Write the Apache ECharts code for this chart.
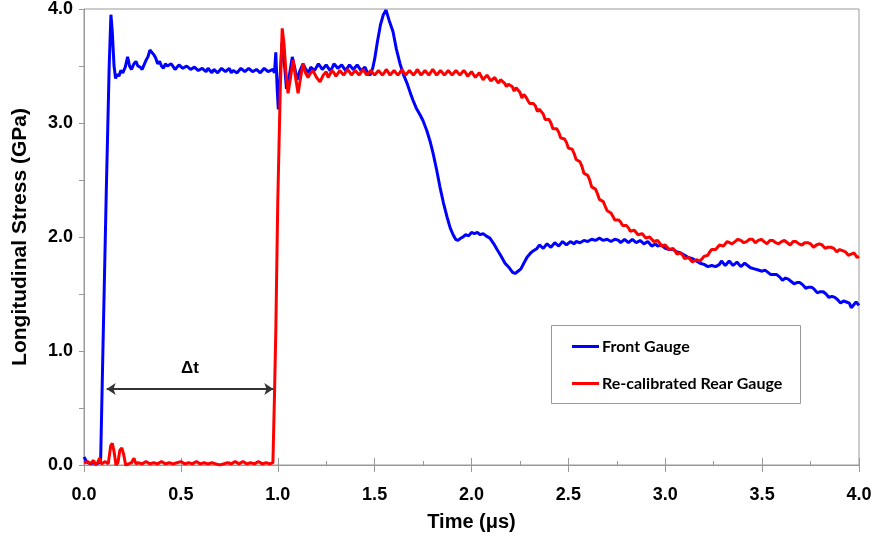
<!DOCTYPE html>
<html>
<head>
<meta charset="utf-8">
<script src="https://cdn.jsdelivr.net/npm/echarts@6/dist/echarts.min.js"></script>
<style>
html,body{margin:0;padding:0;background:#fff;}
#chart{width:875px;height:544px;}
</style>
</head>
<body>
<div id="chart"></div>
<script>
// Axis ticks
var xTicks = [0, 0.5, 1.0, 1.5, 2.0, 2.5, 3.0, 3.5, 4.0];
var yTicks = [0, 1.0, 2.0, 3.0, 4.0];
var seriesNames = ['Front Gauge', 'Re-calibrated Rear Gauge'];

// Front gauge: [time (us), stress (GPa)]
var frontGauge = [
[0.000,0.07],[0.010,0.04],[0.020,0.02],[0.035,0.01],[0.050,0.02],[0.065,0.01],[0.080,0.02],[0.086,0.05],[0.100,1.20],[0.115,2.40],[0.130,3.50],[0.139,3.95],[0.146,3.80],[0.155,3.50],[0.163,3.39],[0.172,3.43],[0.180,3.41],[0.190,3.46],[0.200,3.44],[0.213,3.49],[0.225,3.58],[0.235,3.50],[0.245,3.47],[0.258,3.52],[0.268,3.54],[0.278,3.50],[0.290,3.49],[0.300,3.47],[0.310,3.51],[0.320,3.55],[0.330,3.58],[0.340,3.64],[0.350,3.65],[0.360,3.60],[0.370,3.57],[0.380,3.52],[0.390,3.54],[0.400,3.50],[0.410,3.48],[0.420,3.52],[0.430,3.50],[0.440,3.49],[0.450,3.52],[0.460,3.51],[0.470,3.47],[0.480,3.48],[0.490,3.51],[0.500,3.50],[0.510,3.48],[0.520,3.47],[0.530,3.50],[0.540,3.49],[0.550,3.47],[0.560,3.46],[0.570,3.49],[0.580,3.48],[0.590,3.46],[0.600,3.45],[0.610,3.48],[0.620,3.47],[0.630,3.45],[0.640,3.48],[0.650,3.46],[0.660,3.44],[0.670,3.47],[0.680,3.47],[0.690,3.44],[0.700,3.45],[0.710,3.48],[0.720,3.48],[0.730,3.45],[0.740,3.46],[0.750,3.48],[0.760,3.44],[0.770,3.46],[0.780,3.47],[0.790,3.44],[0.800,3.45],[0.810,3.48],[0.820,3.48],[0.830,3.45],[0.840,3.45],[0.850,3.48],[0.860,3.47],[0.870,3.45],[0.880,3.44],[0.890,3.47],[0.900,3.47],[0.910,3.44],[0.920,3.46],[0.930,3.48],[0.940,3.48],[0.950,3.45],[0.960,3.45],[0.975,3.47],[0.983,3.44],[0.990,3.62],[0.997,3.30],[1.003,3.12],[1.012,3.40],[1.022,3.70],[1.033,3.55],[1.045,3.30],[1.060,3.42],[1.075,3.58],[1.088,3.48],[1.100,3.38],[1.115,3.46],[1.130,3.52],[1.145,3.47],[1.160,3.44],[1.170,3.49],[1.180,3.50],[1.190,3.46],[1.200,3.47],[1.210,3.52],[1.220,3.51],[1.230,3.47],[1.240,3.46],[1.250,3.51],[1.260,3.50],[1.270,3.46],[1.280,3.48],[1.290,3.52],[1.300,3.52],[1.310,3.48],[1.320,3.47],[1.330,3.51],[1.340,3.50],[1.350,3.46],[1.360,3.46],[1.370,3.51],[1.380,3.51],[1.390,3.47],[1.400,3.48],[1.410,3.51],[1.420,3.50],[1.430,3.46],[1.440,3.47],[1.450,3.49],[1.460,3.45],[1.476,3.42],[1.490,3.48],[1.500,3.56],[1.515,3.72],[1.530,3.86],[1.545,3.95],[1.559,3.99],[1.575,3.90],[1.595,3.80],[1.612,3.65],[1.631,3.52],[1.650,3.42],[1.667,3.35],[1.685,3.26],[1.698,3.20],[1.715,3.13],[1.735,3.07],[1.750,3.02],[1.770,2.93],[1.786,2.84],[1.801,2.74],[1.820,2.59],[1.837,2.44],[1.855,2.30],[1.873,2.18],[1.890,2.08],[1.905,2.02],[1.918,1.98],[1.930,1.97],[1.945,1.99],[1.956,2.00],[1.970,2.02],[1.985,2.01],[2.000,2.04],[2.015,2.03],[2.030,2.04],[2.045,2.02],[2.060,2.03],[2.075,2.01],[2.095,1.99],[2.115,1.94],[2.132,1.89],[2.150,1.84],[2.173,1.77],[2.195,1.73],[2.212,1.69],[2.225,1.68],[2.240,1.70],[2.255,1.72],[2.270,1.77],[2.286,1.82],[2.305,1.86],[2.320,1.88],[2.338,1.90],[2.350,1.93],[2.360,1.92],[2.370,1.90],[2.380,1.91],[2.390,1.94],[2.400,1.93],[2.410,1.91],[2.420,1.92],[2.430,1.95],[2.440,1.94],[2.450,1.92],[2.460,1.93],[2.470,1.96],[2.480,1.95],[2.490,1.93],[2.500,1.93],[2.510,1.96],[2.520,1.95],[2.530,1.94],[2.540,1.96],[2.550,1.97],[2.560,1.95],[2.570,1.95],[2.580,1.97],[2.590,1.98],[2.600,1.96],[2.610,1.96],[2.620,1.98],[2.630,1.99],[2.640,1.97],[2.650,1.96],[2.660,1.99],[2.670,1.99],[2.680,1.97],[2.690,1.96],[2.700,1.98],[2.710,1.98],[2.720,1.96],[2.730,1.97],[2.740,1.98],[2.750,1.99],[2.760,1.97],[2.770,1.95],[2.780,1.96],[2.790,1.98],[2.800,1.98],[2.810,1.95],[2.820,1.96],[2.830,1.98],[2.840,1.97],[2.850,1.95],[2.860,1.95],[2.870,1.97],[2.880,1.96],[2.890,1.94],[2.900,1.95],[2.910,1.96],[2.920,1.94],[2.930,1.92],[2.940,1.93],[2.950,1.94],[2.960,1.92],[2.970,1.91],[2.980,1.93],[2.990,1.92],[3.000,1.90],[3.020,1.89],[3.040,1.89],[3.060,1.87],[3.080,1.86],[3.100,1.84],[3.120,1.82],[3.140,1.81],[3.160,1.79],[3.180,1.77],[3.200,1.76],[3.220,1.74],[3.240,1.75],[3.260,1.74],[3.280,1.76],[3.290,1.79],[3.300,1.78],[3.310,1.75],[3.320,1.76],[3.330,1.79],[3.340,1.78],[3.350,1.75],[3.360,1.76],[3.370,1.78],[3.380,1.77],[3.390,1.74],[3.400,1.75],[3.410,1.77],[3.420,1.76],[3.440,1.73],[3.460,1.72],[3.480,1.71],[3.500,1.70],[3.515,1.71],[3.530,1.69],[3.545,1.67],[3.560,1.67],[3.575,1.67],[3.590,1.65],[3.605,1.62],[3.620,1.64],[3.635,1.63],[3.650,1.61],[3.665,1.59],[3.680,1.60],[3.695,1.60],[3.710,1.58],[3.725,1.55],[3.740,1.56],[3.755,1.56],[3.770,1.54],[3.785,1.51],[3.800,1.52],[3.815,1.52],[3.830,1.50],[3.845,1.47],[3.860,1.48],[3.875,1.47],[3.890,1.45],[3.905,1.42],[3.920,1.44],[3.935,1.43],[3.950,1.42],[3.960,1.38],[3.970,1.39],[3.985,1.43],[4.000,1.40]
];

// Re-calibrated rear gauge: [time (us), stress (GPa)]
var rearGauge = [
[0.000,0.02],[0.010,0.01],[0.020,0.03],[0.030,0.01],[0.040,0.02],[0.050,0.04],[0.058,0.00],[0.070,0.02],[0.080,0.06],[0.090,0.01],[0.100,0.02],[0.110,0.03],[0.125,0.01],[0.138,0.17],[0.146,0.19],[0.155,0.12],[0.165,0.00],[0.175,0.02],[0.185,0.13],[0.195,0.15],[0.205,0.09],[0.215,0.00],[0.230,0.01],[0.245,0.02],[0.258,0.06],[0.268,0.01],[0.280,0.02],[0.300,0.01],[0.320,0.03],[0.340,0.01],[0.360,0.02],[0.380,0.01],[0.400,0.03],[0.420,0.01],[0.440,0.02],[0.460,0.01],[0.480,0.02],[0.500,0.03],[0.520,0.01],[0.540,0.02],[0.560,0.01],[0.580,0.03],[0.600,0.01],[0.620,0.02],[0.640,0.01],[0.660,0.02],[0.680,0.01],[0.700,0.00],[0.720,0.01],[0.740,0.02],[0.760,0.01],[0.780,0.03],[0.800,0.01],[0.820,0.03],[0.840,0.01],[0.860,0.02],[0.880,0.01],[0.900,0.03],[0.920,0.01],[0.940,0.02],[0.960,0.01],[0.975,0.02],[0.983,0.60],[0.990,1.18],[1.000,2.30],[1.013,3.30],[1.023,3.83],[1.032,3.70],[1.042,3.45],[1.053,3.26],[1.066,3.40],[1.079,3.55],[1.092,3.40],[1.105,3.26],[1.118,3.40],[1.130,3.52],[1.143,3.44],[1.156,3.40],[1.170,3.44],[1.182,3.46],[1.200,3.40],[1.218,3.36],[1.235,3.42],[1.250,3.45],[1.260,3.40],[1.270,3.41],[1.280,3.46],[1.290,3.44],[1.300,3.41],[1.310,3.42],[1.320,3.46],[1.330,3.46],[1.340,3.42],[1.350,3.43],[1.360,3.47],[1.370,3.45],[1.380,3.42],[1.390,3.42],[1.400,3.46],[1.410,3.45],[1.420,3.42],[1.430,3.43],[1.440,3.47],[1.450,3.46],[1.460,3.42],[1.470,3.43],[1.480,3.46],[1.490,3.45],[1.500,3.42],[1.510,3.42],[1.520,3.46],[1.530,3.45],[1.540,3.42],[1.550,3.44],[1.560,3.47],[1.570,3.46],[1.580,3.42],[1.590,3.43],[1.600,3.46],[1.610,3.45],[1.620,3.42],[1.630,3.44],[1.640,3.47],[1.650,3.46],[1.660,3.42],[1.670,3.43],[1.680,3.46],[1.690,3.45],[1.700,3.42],[1.710,3.44],[1.720,3.47],[1.730,3.46],[1.740,3.42],[1.750,3.44],[1.760,3.46],[1.770,3.45],[1.780,3.42],[1.790,3.43],[1.800,3.47],[1.810,3.46],[1.820,3.42],[1.830,3.44],[1.840,3.46],[1.850,3.45],[1.860,3.42],[1.870,3.43],[1.880,3.46],[1.890,3.45],[1.900,3.42],[1.910,3.44],[1.920,3.46],[1.930,3.45],[1.940,3.42],[1.950,3.43],[1.960,3.46],[1.970,3.44],[1.980,3.41],[1.990,3.42],[2.000,3.45],[2.010,3.44],[2.020,3.40],[2.030,3.42],[2.040,3.44],[2.050,3.41],[2.060,3.38],[2.070,3.40],[2.080,3.42],[2.090,3.41],[2.100,3.37],[2.110,3.38],[2.120,3.40],[2.130,3.37],[2.140,3.35],[2.150,3.38],[2.160,3.37],[2.170,3.35],[2.180,3.32],[2.190,3.34],[2.200,3.34],[2.210,3.32],[2.220,3.28],[2.230,3.31],[2.240,3.29],[2.250,3.27],[2.260,3.22],[2.270,3.25],[2.280,3.23],[2.290,3.22],[2.300,3.17],[2.310,3.18],[2.320,3.17],[2.330,3.15],[2.340,3.10],[2.350,3.12],[2.360,3.10],[2.370,3.08],[2.380,3.03],[2.390,3.04],[2.400,3.03],[2.410,3.00],[2.420,2.95],[2.430,2.96],[2.440,2.95],[2.450,2.92],[2.460,2.87],[2.470,2.88],[2.480,2.86],[2.490,2.83],[2.500,2.78],[2.510,2.78],[2.520,2.77],[2.530,2.73],[2.540,2.68],[2.550,2.67],[2.560,2.66],[2.570,2.62],[2.580,2.56],[2.590,2.55],[2.600,2.54],[2.610,2.50],[2.620,2.44],[2.630,2.43],[2.640,2.42],[2.650,2.38],[2.660,2.33],[2.670,2.32],[2.680,2.31],[2.690,2.27],[2.700,2.23],[2.710,2.22],[2.720,2.21],[2.730,2.18],[2.740,2.15],[2.750,2.15],[2.760,2.15],[2.770,2.13],[2.780,2.10],[2.790,2.10],[2.800,2.10],[2.810,2.08],[2.820,2.05],[2.830,2.06],[2.840,2.06],[2.850,2.05],[2.860,2.02],[2.870,2.03],[2.880,2.03],[2.890,2.02],[2.900,1.99],[2.910,2.00],[2.920,2.00],[2.930,1.99],[2.940,1.96],[2.950,1.97],[2.960,1.97],[2.970,1.95],[2.980,1.92],[2.990,1.93],[3.000,1.93],[3.010,1.92],[3.020,1.89],[3.030,1.90],[3.040,1.90],[3.050,1.88],[3.060,1.85],[3.070,1.86],[3.080,1.86],[3.090,1.84],[3.100,1.81],[3.110,1.82],[3.120,1.82],[3.130,1.81],[3.140,1.78],[3.150,1.79],[3.160,1.80],[3.170,1.80],[3.180,1.79],[3.190,1.81],[3.200,1.83],[3.210,1.84],[3.220,1.84],[3.230,1.87],[3.240,1.89],[3.250,1.89],[3.260,1.89],[3.270,1.91],[3.280,1.93],[3.290,1.93],[3.300,1.92],[3.310,1.94],[3.320,1.96],[3.330,1.95],[3.345,1.94],[3.360,1.96],[3.375,1.98],[3.390,1.97],[3.405,1.95],[3.420,1.96],[3.435,1.98],[3.450,1.98],[3.465,1.95],[3.480,1.97],[3.495,1.98],[3.510,1.96],[3.525,1.94],[3.540,1.97],[3.555,1.97],[3.570,1.95],[3.585,1.94],[3.600,1.96],[3.615,1.97],[3.630,1.95],[3.645,1.93],[3.660,1.96],[3.675,1.96],[3.690,1.94],[3.705,1.93],[3.720,1.95],[3.735,1.95],[3.750,1.94],[3.765,1.91],[3.780,1.93],[3.795,1.94],[3.810,1.93],[3.825,1.90],[3.840,1.91],[3.855,1.91],[3.870,1.90],[3.885,1.87],[3.900,1.89],[3.915,1.88],[3.930,1.87],[3.945,1.84],[3.960,1.85],[3.975,1.86],[3.990,1.82],[4.000,1.83]
];

// Delta-t annotation: start and end of the arrow [time, stress]
var deltaStart = [0.117, 0.667];
var deltaEnd = [0.977, 0.667];
var deltaLabel = 'Δt';

var FONT = "'Liberation Sans', Arial, sans-serif";
var chart = echarts.init(document.getElementById('chart'), null, {renderer: 'canvas'});

function fmtX(v){ return xTicks.some(function(t){return Math.abs(t-v)<1e-9;}) ? v.toFixed(1) : ''; }
function fmtY(v){ return yTicks.some(function(t){return Math.abs(t-v)<1e-9;}) ? v.toFixed(1) : ''; }

chart.setOption({
  animation: false,
  backgroundColor: '#ffffff',
  grid: {left: 84, right: 16, top: 9, bottom: 79, show: true, borderColor: '#999', borderWidth: 1, backgroundColor: 'transparent'},
  legend: {
    show: true,
    data: seriesNames,
    orient: 'vertical',
    left: 572, top: 338, padding: 0,
    itemWidth: 27, itemHeight: 3, itemGap: 20,
    icon: 'rect',
    textStyle: {fontFamily: "Lato, 'Open Sans', sans-serif", fontWeight: 'bold', fontSize: 16, color: '#000', lineHeight: 17, padding: [0,0,0,-2]}
  },
  graphic: [{
    type: 'rect', z: 0, silent: true,
    shape: {x: 551.5, y: 325.5, width: 249, height: 78},
    style: {fill: '#fff', stroke: '#999', lineWidth: 1}
  }],
  xAxis: [{
    type: 'value', min: 0, max: 4, interval: 0.5,
    axisLine: {show: true, lineStyle: {color: '#999', width: 1}},
    axisTick: {show: true, inside: true, length: 7, lineStyle: {color: '#999'}},
    minorTick: {show: true, splitNumber: 2, length: 4, lineStyle: {color: '#999'}},
    splitLine: {show: false},
    axisLabel: {formatter: fmtX, color: '#000', fontFamily: FONT, fontWeight: 'bold', fontSize: 18, margin: 21},
    name: 'Time (μs)', nameLocation: 'middle', nameGap: 47,
    nameTextStyle: {color: '#000', fontFamily: FONT, fontWeight: 'bold', fontSize: 20}
  }, {
    type: 'value', min: 0, max: 4, interval: 0.5, position: 'bottom',
    axisLine: {show: false},
    axisTick: {show: true, inside: false, length: 7, lineStyle: {color: '#999'}},
    axisLabel: {show: false}, splitLine: {show: false}
  }],
  yAxis: {
    type: 'value', min: 0, max: 4, interval: 0.5,
    axisLine: {show: true, lineStyle: {color: '#999', width: 1}},
    axisTick: {show: true, inside: false, length: 5, lineStyle: {color: '#999'}},
    splitLine: {show: false},
    axisLabel: {formatter: fmtY, color: '#000', fontFamily: FONT, fontWeight: 'bold', fontSize: 18, margin: 11},
    name: 'Longitudinal Stress (GPa)', nameLocation: 'middle', nameGap: 53, nameRotate: 90,
    nameTextStyle: {color: '#000', fontFamily: FONT, fontWeight: 'bold', fontSize: 21}
  },
  series: [{
    name: seriesNames[0], type: 'line', data: frontGauge, showSymbol: false, symbol: 'none',
    lineStyle: {color: '#0000ff', width: 3}, itemStyle: {color: '#0000ff'}, z: 3
  }, {
    name: seriesNames[1], type: 'line', data: rearGauge, showSymbol: false, symbol: 'none',
    lineStyle: {color: '#ff0000', width: 3}, itemStyle: {color: '#ff0000'}, z: 4
  }, {
    name: 'annotation', type: 'line', data: [], z: 5,
    markLine: {
      silent: true, animation: false,
      symbol: ['arrow', 'arrow'], symbolSize: 9,
      lineStyle: {color: '#333', width: 2, type: 'solid'},
      label: {show: true, position: 'middle', formatter: deltaLabel, color: '#000', fontFamily: FONT, fontWeight: 'bold', fontSize: 17, distance: 12},
      data: [[{coord: deltaStart}, {coord: deltaEnd}]]
    }
  }]
});
</script>
</body>
</html>
